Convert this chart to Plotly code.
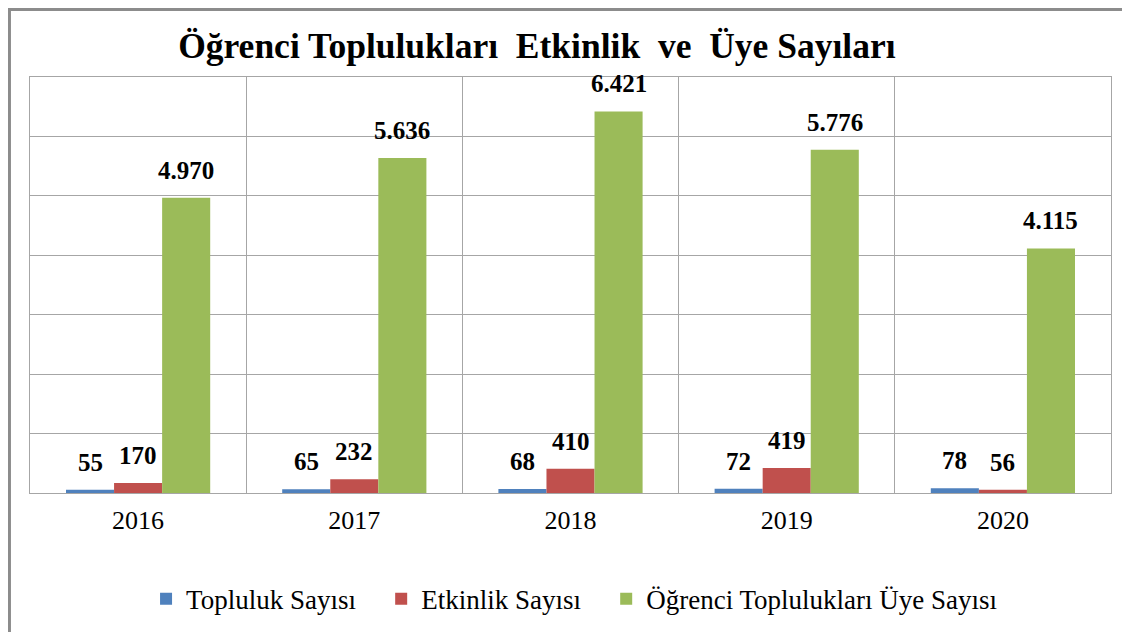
import plotly.graph_objects as go

# values
years = ["2016", "2017", "2018", "2019", "2020"]
topluluk = [55, 65, 68, 72, 78]
etkinlik = [170, 232, 410, 419, 56]
uye = [4970, 5636, 6421, 5776, 4115]

series = [
    ("Topluluk Sayısı", topluluk, "#4F81BD"),
    ("Etkinlik Sayısı", etkinlik, "#C0504D"),
    ("Öğrenci Toplulukları Üye Sayısı", uye, "#9BBB59"),
]

serif = "Liberation Serif, Times New Roman, serif"
xpos = list(range(len(years)))
pad = "\u00a0" * 3  # extra room between legend entries

fig = go.Figure()
for name, vals, col in series:
    fig.add_trace(go.Bar(x=xpos, y=vals, name=name + pad, marker_color=col,
                         marker_line_width=0))

# data labels, a bit above each bar like the Excel original
offsets = [-48, 0, 48]
for (name, vals, col), dx in zip(series, offsets):
    for i, v in zip(xpos, vals):
        fig.add_annotation(x=i, y=v, text="<b>" + f"{v:,}".replace(",", ".") + "</b>",
                           showarrow=False, yanchor="bottom", xshift=dx, yshift=12,
                           font=dict(family=serif, size=25, color="black"))

# outer frame of the chart (only left/top edges fall inside the picture)
fig.add_shape(type="rect", xref="paper", yref="paper",
              x0=-0.019, x1=1.1, y0=-0.4, y1=1.162,
              line=dict(color="#8c8c8c", width=3), layer="below")

fig.update_layout(
    width=1130, height=632,
    margin=dict(l=22, r=27, t=69, b=147),
    paper_bgcolor="white", plot_bgcolor="white",
    barmode="group", bargap=0.333, bargroupgap=0,
    title=dict(text="<b>Öğrenci Toplulukları  Etkinlik  ve  Üye Sayıları</b>",
               x=0.468, xanchor="center", y=0.94, yanchor="middle",
               font=dict(family=serif, size=35.5, color="black")),
    legend=dict(orientation="h", x=0.513, xanchor="center", y=-0.255, yanchor="middle",
                font=dict(family=serif, size=27, color="black"),
                traceorder="normal"),
    showlegend=True,
)
fig.update_xaxes(range=[-0.5, len(years) - 0.5], tickvals=xpos, ticktext=years,
                 showgrid=False, zeroline=False,
                 minor=dict(tickvals=[i - 0.5 for i in range(len(years) + 1)],
                            showgrid=True, gridcolor="#a6a6a6", ticks=""),
                 showline=True, linecolor="#a6a6a6", mirror=True,
                 ticks="outside", ticklen=4, tickcolor="rgba(0,0,0,0)",
                 tickfont=dict(family=serif, size=26, color="black"))
fig.update_yaxes(range=[0, 7000], dtick=1000, showgrid=True, gridcolor="#a6a6a6",
                 showline=True, linecolor="#a6a6a6", mirror=True,
                 showticklabels=False, zeroline=False)

fig.write_html("out.html")
